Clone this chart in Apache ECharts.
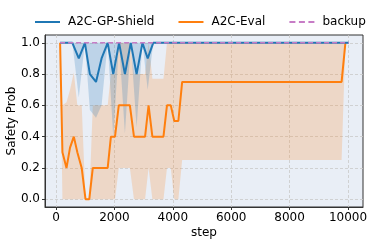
<!DOCTYPE html>
<html>
<head>
<meta charset="utf-8">
<script src="https://cdn.jsdelivr.net/npm/echarts@6/dist/echarts.min.js"></script>
<style>html,body{margin:0;padding:0;background:#fff}#c{width:389px;height:245px}</style>
</head>
<body>
<div id="c"></div>
<script>
// ---- data ----
const xTicks = [0, 2000, 4000, 6000, 8000, 10000];
const yTicks = [0, 0.2, 0.4, 0.6, 0.8, 1.0];

const shieldSteps = [140, 560, 780, 990, 1160, 1370, 1560, 1770, 1960, 2160, 2360, 2560, 2760, 2960, 3140, 3330, 10030];
const shieldMean  = [1, 1, 0.9, 1, 0.8, 0.75, 0.9, 1, 0.8, 1, 0.8, 1, 0.8, 1, 0.9, 1, 1];
const shieldLow   = [1, 1, 0.65, 1, 0.57, 0.52, 0.6, 1, 0.4, 1, 0.42, 1, 0.46, 1, 0.7, 1, 1];
const shieldHigh  = [1, 1, 1, 1, 1, 1, 1, 1, 1, 1, 1, 1, 1, 1, 1, 1, 1];

const evalSteps = [140, 220, 360, 480, 610, 730, 880, 1010, 1140, 1260, 1770, 1880, 2020, 2150, 2530, 2670, 3050, 3170, 3300, 3680, 3800, 3930, 4050, 4190, 4320, 9780, 9910];
const evalMean  = [1.0, 0.3, 0.2, 0.33, 0.4, 0.3, 0.2, 0.0, 0.0, 0.2, 0.2, 0.4, 0.4, 0.6, 0.6, 0.4, 0.4, 0.6, 0.4, 0.4, 0.6, 0.6, 0.5, 0.5, 0.75, 0.75, 1.0];
const evalLow   = [1.0, 0, 0, 0, 0, 0, 0, 0, 0, 0, 0, 0, 0, 0.2, 0.2, 0, 0, 0.2, 0, 0, 0.2, 0.2, 0, 0, 0.25, 0.25, 1.0];
const evalHigh  = [1.0, 0.6, 0.62, 0.7, 0.81, 0.6, 0.6, 0, 0, 0.6, 0.6, 0.8, 0.8, 1.0, 1.0, 0.8, 0.8, 1.0, 0.77, 0.77, 1.0, 1.0, 1.0, 1.0, 1.0, 1.0, 1.0];

const backupSteps  = [140, 10030];
const backupValues = [1, 1];

const seriesNames = ['A2C-GP-Shield', 'A2C-Eval', 'backup'];
// ---------------

const BLUE = '#1f77b4', ORANGE = '#ff7f0e', PURPLE = '#c77cc6';
const FONT = 'DejaVu Sans';

function pairs(xs, ys) { return xs.map((x, i) => [x, ys[i]]); }
function bandData(xs, lo, hi) { return xs.map((x, i) => [x, lo[i], hi[i]]); }

function bandSeries(name, xs, lo, hi, color, opacity, z) {
  const data = bandData(xs, lo, hi);
  return {
    name: name, type: 'custom', silent: true, z: z, clip: true,
    encode: {x: 0, y: [1, 2]},
    data: data,
    renderItem: function (params, api) {
      if (params.dataIndex !== 0) return null;
      const top = data.map(d => api.coord([d[0], d[2]]));
      const bot = data.map(d => api.coord([d[0], d[1]])).reverse();
      return {
        type: 'polygon',
        shape: {points: top.concat(bot)},
        style: {fill: color, opacity: opacity, stroke: null}
      };
    }
  };
}

const solidIcon = 'path://M0,0h25v2h-25z';
const dashIcon = 'path://M0,0h6v2h-6zM9.5,0h6v2h-6zM19,0h6v2h-6z';

const chart = echarts.init(document.getElementById('c'), null, {renderer: 'canvas'});
chart.setOption({
  animation: false,
  backgroundColor: '#ffffff',
  textStyle: {fontFamily: FONT},
  legend: {
    data: [
      {name: seriesNames[0], icon: solidIcon, itemStyle: {color: BLUE}},
      {name: seriesNames[1], icon: solidIcon, itemStyle: {color: ORANGE}},
      {name: seriesNames[2], icon: dashIcon, itemStyle: {color: PURPLE}}
    ],
    top: 11, left: 30,
    itemWidth: 25, itemHeight: 2, itemGap: 24,
    textStyle: {fontFamily: FONT, fontSize: 12, color: '#000', padding: [0, 0, 0, 3]}
  },
  grid: {
    left: 45, right: 26, top: 35, bottom: 38,
    outerBoundsMode: 'none', containLabel: false,
    show: true, backgroundColor: '#e9eef6', borderColor: '#333', borderWidth: 1
  },
  xAxis: {
    type: 'value', min: -377, max: 10513,
    name: 'step', nameLocation: 'middle', nameGap: 20, nameMoveOverlap: false,
    nameTextStyle: {fontFamily: FONT, fontSize: 12, color: '#000'},
    axisLine: {show: true, onZero: false, lineStyle: {color: '#333', width: 1}},
    axisTick: {show: true, length: 3, customValues: xTicks, lineStyle: {color: '#333'}},
    axisLabel: {customValues: xTicks, margin: 5, fontFamily: FONT, fontSize: 12, color: '#000',
      formatter: v => String(Math.round(v))},
    splitLine: {show: true, lineStyle: {color: '#c9c9c9', type: [3, 2], width: 0.8}}
  },
  yAxis: {
    type: 'value', min: -0.05, max: 1.05,
    name: 'Safety Prob', nameLocation: 'middle', nameGap: 27, nameMoveOverlap: false,
    nameTextStyle: {fontFamily: FONT, fontSize: 12, color: '#000'},
    axisLine: {show: true, onZero: false, lineStyle: {color: '#333', width: 1}},
    axisTick: {show: true, length: 3, customValues: yTicks, lineStyle: {color: '#333'}},
    axisLabel: {customValues: yTicks, margin: 5, fontFamily: FONT, fontSize: 12, color: '#000',
      formatter: v => v.toFixed(1)},
    splitLine: {show: true, lineStyle: {color: '#c9c9c9', type: [3, 2], width: 0.8}}
  },
  series: [
    bandSeries('evalBand', evalSteps, evalLow, evalHigh, ORANGE, 0.2, 1),
    bandSeries('shieldBand', shieldSteps, shieldLow, shieldHigh, BLUE, 0.22, 2),
    {name: seriesNames[1], type: 'line', data: pairs(evalSteps, evalMean), symbol: 'none',
     itemStyle: {color: ORANGE}, lineStyle: {color: ORANGE, width: 2}, z: 3},
    {name: seriesNames[0], type: 'line', data: pairs(shieldSteps, shieldMean), symbol: 'none',
     itemStyle: {color: BLUE}, lineStyle: {color: BLUE, width: 2}, z: 4},
    {name: seriesNames[2], type: 'line', data: pairs(backupSteps, backupValues), symbol: 'none',
     itemStyle: {color: PURPLE}, lineStyle: {color: PURPLE, width: 1.5, type: [5, 3]}, z: 5}
  ]
});
</script>
</body>
</html>
